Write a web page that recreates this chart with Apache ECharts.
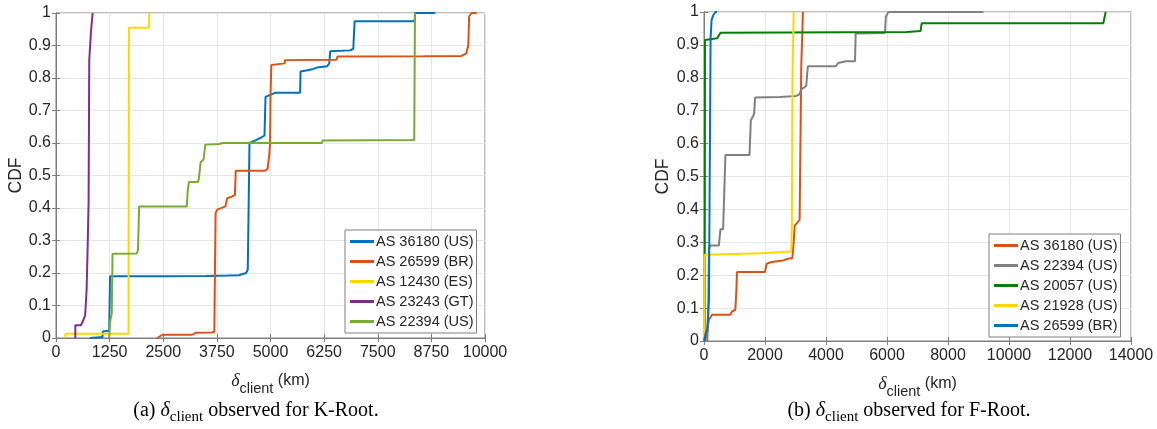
<!DOCTYPE html>
<html>
<head>
<meta charset="utf-8">
<script src="https://cdn.jsdelivr.net/npm/echarts@6/dist/echarts.min.js"></script>
<style>
  html, body { margin: 0; padding: 0; background: #fff; }
  #chart { width: 1157px; height: 429px; }
</style>
</head>
<body>
<div id="chart"></div>
<script>
// Empirical CDF of client distance (km) per AS, [km, cdf] vertices.
// K-Root
const kAS36180 = [[790,0],[800,0.002],[1085,0.003],[1090,0.02],[1240,0.022],[1260,0.19],[2500,0.19],[3500,0.191],[4000,0.192],[4260,0.193],[4300,0.196],[4430,0.2],[4470,0.21],[4490,0.4],[4510,0.6],[4650,0.608],[4800,0.618],[4860,0.623],[4884,0.742],[4920,0.747],[5120,0.755],[5690,0.755],[5700,0.82],[5860,0.824],[6000,0.828],[6080,0.832],[6320,0.836],[6370,0.845],[6390,0.882],[6860,0.885],[6930,0.89],[6960,0.975],[8360,0.975],[8370,1.0],[8840,1.0]];
const kAS26599 = [[2360,0],[2400,0.005],[2480,0.01],[3180,0.01],[3250,0.016],[3640,0.017],[3690,0.02],[3705,0.2],[3720,0.385],[3760,0.395],[3800,0.4],[3950,0.405],[3990,0.43],[4100,0.435],[4170,0.44],[4190,0.515],[4880,0.515],[4930,0.52],[4970,0.56],[4990,0.6],[5000,0.75],[5020,0.84],[5330,0.845],[5340,0.855],[6540,0.856],[6560,0.866],[8560,0.867],[9450,0.868],[9560,0.875],[9610,0.9],[9630,0.99],[9690,1.0],[9806,1.0]];
const kAS12430 = [[217,0],[217,0.013],[1690,0.013],[1700,0.955],[2170,0.955],[2175,1.0]];
const kAS23243 = [[450,0],[450,0.039],[580,0.039],[620,0.049],[680,0.07],[713,0.147],[736,0.27],[760,0.42],[775,0.854],[814,0.94],[853,1.0]];
const kAS22394 = [[1240,0],[1260,0.05],[1300,0.075],[1318,0.259],[1880,0.26],[1910,0.27],[1938,0.405],[3050,0.405],[3070,0.455],[3100,0.48],[3310,0.48],[3330,0.49],[3370,0.54],[3440,0.55],[3480,0.595],[3800,0.597],[3880,0.6],[6200,0.6],[6220,0.608],[8350,0.609],[8368,1.0]];

// F-Root
const fAS36180 = [[32,0],[60,0.01],[108,0.03],[162,0.065],[270,0.08],[865,0.08],[920,0.09],[1027,0.095],[1060,0.15],[1081,0.21],[2000,0.21],[2054,0.235],[2216,0.24],[2594,0.245],[2757,0.25],[2897,0.252],[2940,0.3],[2973,0.35],[3135,0.368],[3189,0.834],[3221,0.935],[3243,1.0]];
const fAS22394 = [[110,0],[140,0.1],[162,0.28],[200,0.29],[486,0.29],[540,0.34],[627,0.34],[703,0.565],[1492,0.565],[1535,0.67],[1643,0.69],[1676,0.74],[2486,0.742],[3027,0.745],[3135,0.75],[3189,0.765],[3351,0.775],[3405,0.835],[4324,0.835],[4400,0.845],[4650,0.85],[4951,0.85],[4973,0.935],[5934,0.936],[5960,0.985],[6043,1.0],[9157,1.0]];
const fAS20057 = [[20,0],[25,0.26],[32,0.915],[432,0.92],[486,0.925],[540,0.937],[6646,0.939],[6700,0.942],[7100,0.942],[7138,0.966],[13092,0.966],[13170,1.0]];
const fAS21928 = [[0,0],[20,0.262],[60,0.267],[1890,0.267],[1950,0.272],[2860,0.272],[2880,0.35],[2900,0.8],[2940,1.0]];
const fAS26599 = [[0,0],[54,0.024],[108,0.034],[162,0.125],[216,0.92],[249,0.976],[303,0.99],[378,1.0],[430,1.0]];

const kNames = ['AS 36180 (US)', 'AS 26599 (BR)', 'AS 12430 (ES)', 'AS 23243 (GT)', 'AS 22394 (US)'];
const fNames = ['AS 36180 (US)', 'AS 22394 (US)', 'AS 20057 (US)', 'AS 21928 (US)', 'AS 26599 (BR)'];
const kData = [kAS36180, kAS26599, kAS12430, kAS23243, kAS22394];
const fData = [fAS36180, fAS22394, fAS20057, fAS21928, fAS26599];
const kColors = ['#0072BD', '#D95319', '#FFD700', '#7E2F8E', '#77AC30'];
const fColors = ['#D95319', '#808080', '#008000', '#FFD700', '#0072BD'];

const kTicks = { min: 0, max: 10000, interval: 1250 };
const fTicks = { min: 0, max: 14000, interval: 2000 };

const SANS = 'Liberation Sans';
const SERIF = 'Liberation Serif';
const BOX = '#7f7f7f';
const GRID = '#e6e6e6';
const INK = '#262626';

function bottomAxis(grid, ticks) {
  return {
    type: 'value', gridIndex: grid, position: 'bottom',
    min: ticks.min, max: ticks.max, interval: ticks.interval,
    name: '{d|δ}{s|client}{k| (km)}', nameLocation: 'middle', nameGap: 28,
    nameTextStyle: {
      rich: {
        d: { fontFamily: SERIF, fontStyle: 'italic', fontSize: 18, color: INK, verticalAlign: 'middle', lineHeight: 30 },
        s: { fontFamily: SANS, fontSize: 14.5, color: INK, verticalAlign: 'bottom', lineHeight: 30 },
        k: { fontFamily: SANS, fontSize: 16, color: INK, verticalAlign: 'middle', lineHeight: 30 }
      }
    },
    axisLine: { show: true, lineStyle: { color: BOX, width: 1 } },
    axisTick: { show: true, inside: true, length: 4, lineStyle: { color: BOX } },
    axisLabel: { fontFamily: SANS, fontSize: 16, color: INK, margin: 7, formatter: v => String(v) },
    splitLine: { show: true, lineStyle: { color: GRID, width: 1 } }
  };
}
function topAxis(grid, ticks) {
  return {
    type: 'value', gridIndex: grid, position: 'top',
    min: ticks.min, max: ticks.max, interval: ticks.interval,
    axisLine: { show: true, lineStyle: { color: BOX, width: 1 } },
    axisTick: { show: true, inside: true, length: 4, lineStyle: { color: BOX } },
    axisLabel: { show: false }, splitLine: { show: false }
  };
}
function leftAxis(grid, gap) {
  return {
    type: 'value', gridIndex: grid, position: 'left',
    min: 0, max: 1, interval: 0.1,
    name: 'CDF', nameLocation: 'middle', nameGap: gap, nameRotate: 90,
    nameTextStyle: { fontFamily: SANS, fontSize: 17.5, color: INK },
    axisLine: { show: true, lineStyle: { color: BOX, width: 1 } },
    axisTick: { show: true, inside: true, length: 4, lineStyle: { color: BOX } },
    axisLabel: { fontFamily: SANS, fontSize: 16, color: INK, margin: 5, formatter: v => String(+v.toFixed(1)) },
    splitLine: { show: true, lineStyle: { color: GRID, width: 1 } }
  };
}
function rightAxis(grid) {
  return {
    type: 'value', gridIndex: grid, position: 'right',
    min: 0, max: 1, interval: 0.1,
    axisLine: { show: true, lineStyle: { color: BOX, width: 1 } },
    axisTick: { show: true, inside: true, length: 4, lineStyle: { color: BOX } },
    axisLabel: { show: false }, splitLine: { show: false }
  };
}
function makeSeries(prefix, names, data, colors, xIdx, yIdx) {
  return names.map((n, i) => ({
    name: prefix + n, type: 'line', xAxisIndex: xIdx, yAxisIndex: yIdx,
    data: data[i], showSymbol: false, symbol: 'none',
    lineStyle: { color: colors[i], width: 2 }, itemStyle: { color: colors[i] },
    z: 2 + i
  }));
}
function makeLegend(prefix, names, left, top) {
  return {
    orient: 'vertical', left: left, top: top,
    data: names.map(n => prefix + n),
    formatter: name => name.slice(prefix.length),
    icon: 'rect', itemWidth: 24, itemHeight: 3, itemGap: 5,
    padding: [4, 3, 4, 5],
    backgroundColor: '#fff', borderColor: BOX, borderWidth: 1,
    selectedMode: false,
    textStyle: { fontFamily: SANS, fontSize: 14.5, color: INK, lineHeight: 14, padding: [0, 0, 0, -3] }
  };
}
function caption(x, tag, root) {
  return {
    type: 'text', x: x, y: 411,
    style: {
      text: tag + ' {i|δ}{s|client} observed for ' + root + '.',
      align: 'center', verticalAlign: 'middle',
      fontFamily: SERIF, fontSize: 20, fill: '#000',
      rich: {
        i: { fontFamily: SERIF, fontStyle: 'italic', fontSize: 20, verticalAlign: 'middle', lineHeight: 28 },
        s: { fontFamily: SERIF, fontSize: 15, verticalAlign: 'bottom', lineHeight: 28 }
      }
    }
  };
}

const chart = echarts.init(document.getElementById('chart'), null, { renderer: 'canvas' });
chart.setOption({
  animation: false,
  backgroundColor: '#fff',
  grid: [
    { left: 56, right: 672, top: 13, bottom: 91, show: true, borderColor: BOX, borderWidth: 1, backgroundColor: '#fff' },
    { left: 704, right: 26, top: 12, bottom: 88, show: true, borderColor: BOX, borderWidth: 1, backgroundColor: '#fff' }
  ],
  xAxis: [bottomAxis(0, kTicks), topAxis(0, kTicks), bottomAxis(1, fTicks), topAxis(1, fTicks)],
  yAxis: [leftAxis(0, 31), rightAxis(0), leftAxis(1, 32), rightAxis(1)],
  legend: [makeLegend('K:', kNames, 345, 230), makeLegend('F:', fNames, 989, 234)],
  series: [].concat(
    makeSeries('K:', kNames, kData, kColors, 0, 0),
    makeSeries('F:', fNames, fData, fColors, 2, 2)
  ),
  graphic: [caption(256, '(a)', 'K-Root'), caption(909, '(b)', 'F-Root')]
});
</script>
</body>
</html>
